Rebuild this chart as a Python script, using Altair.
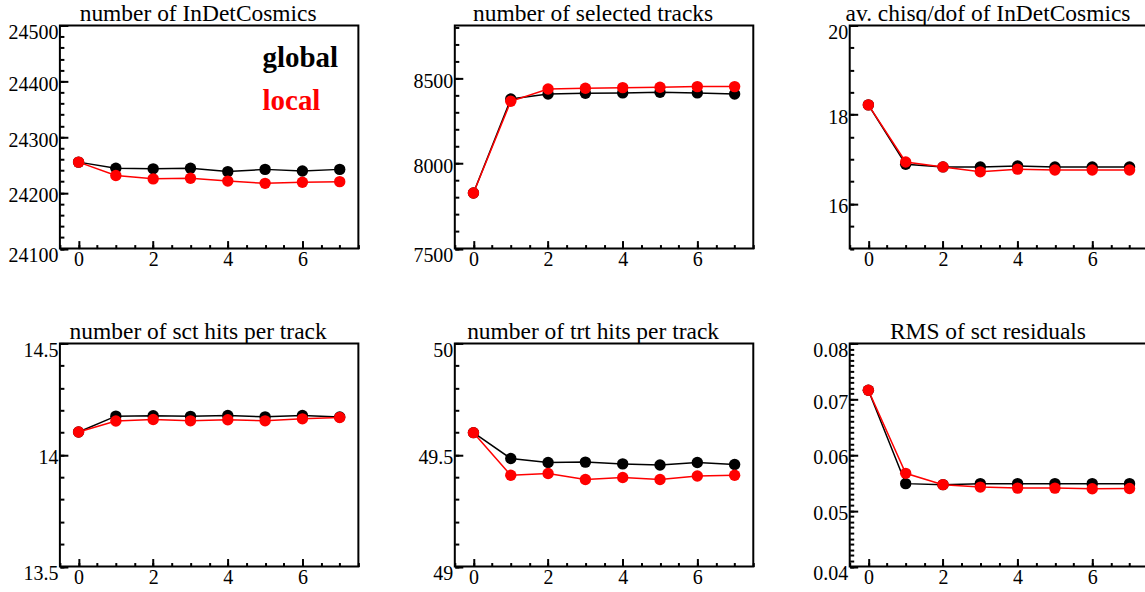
import altair as alt
import numpy as np
import pandas as pd

# ---------------- data ----------------
iterations = [0, 1, 2, 3, 4, 5, 6, 7]
series_names = ["global", "local"]
series_colors = ["#000000", "#ff0000"]

titles = [
    "number of InDetCosmics",
    "number of selected tracks",
    "av. chisq/dof of InDetCosmics",
    "number of sct hits per track",
    "number of trt hits per track",
    "RMS of sct residuals",
]

ncosm_global = [24255, 24244, 24243, 24244, 24238, 24242, 24239, 24242]
ncosm_local = [24255, 24231, 24225, 24226, 24221, 24217, 24219, 24220]

nsel_global = [7826, 8378, 8408, 8412, 8414, 8418, 8414, 8408]
nsel_local = [7826, 8365, 8437, 8441, 8445, 8447, 8451, 8451]

chi_global = [18.22, 16.89, 16.83, 16.83, 16.85, 16.83, 16.83, 16.83]
chi_local = [18.22, 16.94, 16.83, 16.72, 16.78, 16.76, 16.76, 16.76]

sct_global = [14.103, 14.174, 14.176, 14.173, 14.177, 14.171, 14.177, 14.170]
sct_local = [14.103, 14.152, 14.159, 14.153, 14.158, 14.153, 14.162, 14.168]

trt_global = [49.600, 49.484, 49.466, 49.468, 49.460, 49.455, 49.466, 49.457]
trt_local = [49.600, 49.409, 49.417, 49.390, 49.399, 49.390, 49.406, 49.409]

rms_global = [0.0716, 0.05486, 0.05468, 0.05486, 0.05486, 0.05486, 0.05486, 0.05486]
rms_local = [0.0716, 0.05671, 0.05468, 0.05424, 0.05406, 0.05406, 0.05394, 0.05400]

# axis ranges and ticks
x_domain = [-0.5, 7.5]
x_major = [0, 2, 4, 6]
x_minor_step = 0.5

y_domains = [[24100, 24500], [7500, 8810], [15, 20], [13.5, 14.5], [49, 50], [0.04, 0.08]]
y_majors = [
    [24100, 24200, 24300, 24400, 24500],
    [7500, 8000, 8500],
    [16, 18, 20],
    [13.5, 14, 14.5],
    [49, 49.5, 50],
    [0.04, 0.05, 0.06, 0.07, 0.08],
]
y_minor_steps = [20, 100, 0.5, 0.1, 0.1, 0.001]

FONT = "Liberation Serif"
PW, PH = 299, 223.5
MAJ, MIN = 8, 4


def steps(lo, hi, step):
    n = int(round((hi - lo) / step))
    return [float(np.round(lo + i * step, 6)) for i in range(n + 1)]


x_minor = steps(x_domain[0], x_domain[1], x_minor_step)


def axis(orient, values, size, labels, dom=None):
    kw = dict(
        orient=orient, values=values, tickSize=size, offset=-size, tickWidth=2,
        tickColor="black", domain=False, grid=False, title=None, labels=labels,
    )
    if labels:
        kw.update(labelFont=FONT, labelFontSize=20, labelColor="black",
                  labelFlush=False, labelExpr="'' + datum.value")
        if orient == "bottom":
            kw.update(labelPadding=1)
        else:
            lo, hi = dom
            kw.update(
                labelPadding=2, labelBaseline="middle",
                labelOffset={
                    "condition": {
                        "test": f"datum.value <= {lo} || datum.value >= {hi}",
                        "value": 7,
                    },
                    "value": 3,
                },
            )
    return alt.Axis(**kw)


def panel(k, g, l, legend=False):
    df = pd.DataFrame({
        "iter": iterations * 2,
        "value": g + l,
        "series": [series_names[0]] * len(g) + [series_names[1]] * len(l),
    })
    ymin = steps(y_domains[k][0], y_domains[k][1], y_minor_steps[k])
    xs = alt.Scale(domain=x_domain, nice=False, zero=False)
    ys = alt.Scale(domain=y_domains[k], nice=False, zero=False)
    base = alt.Chart(df)
    layers = []
    for i, (s, c) in enumerate(zip(series_names, series_colors)):
        sub = base.transform_filter(alt.datum.series == s)
        if i == 0:
            xa1 = axis("bottom", x_major, MAJ, True)
            ya1 = axis("left", y_majors[k], MAJ, True, y_domains[k])
            xa2, ya2 = axis("bottom", x_minor, MIN, False), axis("left", ymin, MIN, False)
        else:
            xa1 = ya1 = xa2 = ya2 = None
        line = sub.mark_line(color=c, strokeWidth=1.5).encode(
            x=alt.X("iter:Q", scale=xs, axis=xa1),
            y=alt.Y("value:Q", scale=ys, axis=ya1),
        )
        pts = sub.mark_circle(color=c, size=130, opacity=1).encode(
            x=alt.X("iter:Q", scale=xs, axis=xa2),
            y=alt.Y("value:Q", scale=ys, axis=ya2),
        )
        layers += [line, pts]
    # panel title (as text above the frame)
    ttl = alt.Chart(pd.DataFrame({"t": [titles[k]]})).mark_text(
        align="center", baseline="alphabetic", font=FONT, fontSize=23.5, color="black",
    ).encode(x=alt.value(PW / 2 - 11), y=alt.value(-4.5), text="t:N")
    layers.append(ttl)
    if legend:
        for s, c, ypx in zip(series_names, series_colors, [42, 85]):
            t = alt.Chart(pd.DataFrame({"label": [s]})).mark_text(
                align="left", baseline="alphabetic", font=FONT, fontSize=29,
                fontWeight="bold", color=c,
            ).encode(x=alt.value(203), y=alt.value(ypx), text="label:N")
            layers.append(t)
    return alt.layer(*layers).resolve_axis(x="independent", y="independent").properties(
        width=PW, height=PH,
    )


panels = [
    panel(0, ncosm_global, ncosm_local, legend=True),
    panel(1, nsel_global, nsel_local),
    panel(2, chi_global, chi_local),
    panel(3, sct_global, sct_local),
    panel(4, trt_global, trt_local),
    panel(5, rms_global, rms_local),
]

chart = alt.concat(
    *panels, columns=3, spacing={"row": 94.5, "column": 96.6}, bounds="flush"
).properties(
    padding={"left": 7, "top": 0, "right": -6, "bottom": 0},
    background="white",
).configure_view(stroke="black", strokeWidth=2).configure_axis(
    labelFont=FONT, labelFontSize=20, labelColor="black"
)

chart.save("out.html", embed_options={"renderer": "svg", "actions": False})
